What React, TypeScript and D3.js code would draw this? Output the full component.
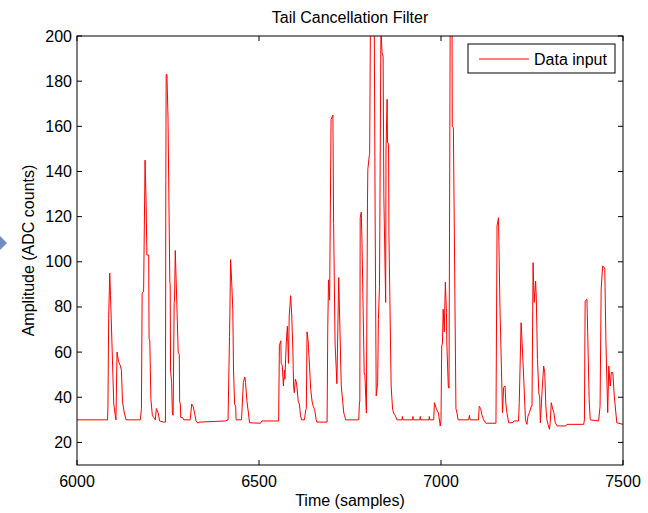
import React from "react";
import * as d3 from "d3";

const sampleTimes: number[] = [
  6000, 6084, 6085, 6087, 6090, 6092, 6094, 6101, 6105, 6107, 6110, 6114, 6119, 6122, 6125, 6130, 6135,
  6174, 6177, 6179, 6183, 6187, 6190, 6192, 6197, 6198, 6200, 6203, 6207, 6211, 6215, 6218, 6223, 6227,
  6238, 6243, 6244, 6245, 6247, 6250, 6255, 6256, 6257, 6260, 6262, 6264, 6267, 6268, 6270, 6272, 6278,
  6281, 6282, 6284, 6285, 6290, 6293, 6311, 6315, 6319, 6323, 6327, 6332, 6335, 6408, 6415, 6419, 6420,
  6422, 6425, 6428, 6430, 6433, 6436, 6437, 6452, 6457, 6461, 6463, 6467, 6471, 6474, 6504, 6508, 6554,
  6556, 6560, 6561, 6564, 6567, 6570, 6571, 6575, 6578, 6581, 6583, 6587, 6590, 6593, 6595, 6597, 6600,
  6603, 6608, 6611, 6614, 6617, 6625, 6628, 6630, 6632, 6635, 6636, 6639, 6642, 6646, 6649, 6653, 6657,
  6659, 6687, 6689, 6691, 6694, 6698, 6703, 6705, 6709, 6714, 6719, 6726, 6730, 6733, 6735, 6738, 6774,
  6776, 6777, 6778, 6781, 6783, 6789, 6791, 6795, 6798, 6799, 6803, 6804, 6807, 6812, 6816, 6819, 6822,
  6826, 6828, 6831, 6835, 6838, 6841, 6843, 6848, 6849, 6852, 6853, 6856, 6857, 6863, 6867, 6870, 6874,
  6879, 6893, 6894, 6895, 6922, 6923, 6924, 6942, 6943, 6944, 6967, 6968, 6969, 6980, 6982, 6987, 6993,
  6998, 7000, 7002, 7004, 7006, 7009, 7012, 7015, 7016, 7020, 7022, 7026, 7030, 7031, 7034, 7041, 7044,
  7047, 7076, 7078, 7080, 7103, 7105, 7109, 7112, 7117, 7123, 7151, 7154, 7158, 7162, 7166, 7169, 7172,
  7176, 7178, 7181, 7186, 7195, 7202, 7213, 7215, 7220, 7222, 7227, 7232, 7236, 7239, 7243, 7248, 7250,
  7253, 7256, 7260, 7262, 7265, 7269, 7271, 7273, 7276, 7278, 7282, 7285, 7288, 7291, 7294, 7298, 7300,
  7303, 7307, 7310, 7314, 7319, 7343, 7346, 7392, 7394, 7396, 7401, 7403, 7407, 7410, 7433, 7437, 7440,
  7444, 7449, 7450, 7453, 7458, 7461, 7465, 7468, 7472, 7476, 7483, 7500,
];

const adcCounts: number[] = [
  30, 30, 36, 75, 95, 85, 75, 37, 32, 30, 60, 56, 54, 52, 38, 33, 30,
  30, 35, 86, 87, 145, 125, 103, 103, 66, 65, 39, 32, 31, 30, 35, 33, 29.5,
  29, 29, 136, 183, 183, 164, 91, 90, 52, 46.5, 33, 32, 82, 83, 105, 94, 60,
  59, 38, 37, 31, 31, 30, 30, 37, 36, 33, 29.5, 28.5, 29, 29.5, 30, 67, 77,
  101, 91, 79, 52, 37, 36, 30, 30, 46.5, 49, 46.5, 38, 33, 28.7, 28.5, 29.5, 29.5,
  63, 65, 55, 54, 45, 52, 48, 64.5, 71.5, 55, 76, 85, 76, 61, 45, 42, 48,
  46.5, 38, 37, 32, 30, 30, 34, 35, 69, 65, 62, 53, 43.5, 38, 36, 34.5, 30,
  29, 29, 71.5, 92, 83, 163, 165, 117, 64, 46, 93, 45, 38, 33, 32, 30, 30,
  38, 38, 119.5, 122, 108.5, 51, 49.5, 33, 126, 141, 147, 148, 230, 245, 230, 122, 40.6,
  46.5, 74.5, 89, 204, 192.6, 191, 129, 82, 150, 172, 153, 152, 112, 45, 34.7, 33, 32,
  30, 30, 31.5, 30, 30, 31.5, 30, 30, 31.5, 30, 30, 31.5, 30, 30, 37.6, 35, 33,
  27.3, 30, 62.7, 64, 79, 69, 91, 77.5, 64, 45, 44, 240, 235, 160, 159.4, 35, 33,
  30, 30, 32, 30, 30, 36, 35, 32.4, 30, 28.5, 28.5, 116, 119.5, 79.7, 52.4, 33.2, 44.3,
  45, 37.6, 33.2, 28.7, 28.7, 29.5, 29.5, 37.6, 73, 67, 49.4, 30, 28, 31.7, 33.2, 36, 36,
  99.6, 82, 91.5, 82.6, 56.8, 41.3, 40.5, 28.7, 37.6, 43.5, 53.8, 51, 36, 30, 28, 25.8, 28.7,
  37.6, 34.7, 33.2, 28.7, 27.3, 27.3, 28, 28, 30, 82.6, 83.4, 68.6, 39, 30, 29.5, 36, 87.8,
  98.1, 97.4, 96.7, 65, 33.2, 53.8, 45, 51, 51, 40.6, 28.7, 28,
];

const xTicks: number[] = [6000, 6500, 7000, 7500];
const yTicks: number[] = [20, 40, 60, 80, 100, 120, 140, 160, 180, 200];

const titleText = "Tail Cancellation Filter";
const xLabel = "Time (samples)";
const yLabel = "Amplitude (ADC counts)";
const seriesName = "Data input";

const W = 648;
const H = 513;
const L = 77, R = 623, T = 36, B = 465;
const FONT = "'Liberation Sans', Arial, Helvetica, sans-serif";

export default function App() {
  const x = d3.scaleLinear().domain([6000, 7500]).range([L, R]);
  const y = d3.scaleLinear().domain([10, 200]).range([B, T]);
  const pts: [number, number][] = sampleTimes.map((t, i) => [t, adcCounts[i]]);
  const line = d3
    .line<[number, number]>()
    .x((d) => x(d[0]))
    .y((d) => y(d[1]));
  const tl = 5;
  return (
    <svg
      width={W}
      height={H}
      style={{ position: "absolute", left: 0, top: 0, background: "#fff" }}
      fontFamily={FONT}
    >
      <rect x={0} y={0} width={W} height={H} fill="#fff" />
      <polygon points="-7,243 0,236 7,243 0,250" fill="#6f8cc4" />
      <defs>
        <clipPath id="plotClip">
          <rect x={L} y={T} width={R - L} height={B - T} />
        </clipPath>
      </defs>
      <path
        d={line(pts) || ""}
        fill="none"
        stroke="#ff0000"
        strokeWidth={1}
        clipPath="url(#plotClip)"
      />
      <rect x={L} y={T} width={R - L} height={B - T} fill="none" stroke="#000" strokeWidth={1} />
      {xTicks.map((t) => (
        <g key={"x" + t}>
          <line x1={x(t)} x2={x(t)} y1={B} y2={B - tl} stroke="#000" />
          <line x1={x(t)} x2={x(t)} y1={T} y2={T + tl} stroke="#000" />
          <text x={x(t)} y={487} fontSize={16} textAnchor="middle" fill="#000">
            {t}
          </text>
        </g>
      ))}
      {yTicks.map((t) => (
        <g key={"y" + t}>
          <line x1={L} x2={L + tl} y1={y(t)} y2={y(t)} stroke="#000" />
          <line x1={R} x2={R - tl} y1={y(t)} y2={y(t)} stroke="#000" />
          <text x={72} y={y(t) + 5.5} fontSize={16} textAnchor="end" fill="#000">
            {t}
          </text>
        </g>
      ))}
      <text x={(L + R) / 2} y={22.5} fontSize={16} textAnchor="middle" fill="#000">
        {titleText}
      </text>
      <text x={(L + R) / 2} y={505.5} fontSize={16} textAnchor="middle" fill="#000">
        {xLabel}
      </text>
      <text
        transform={`translate(34,${(T + B) / 2}) rotate(-90)`}
        fontSize={16}
        textAnchor="middle"
        fill="#000"
      >
        {yLabel}
      </text>
      <g>
        <rect x={468} y={44} width={147} height={29} fill="#fff" stroke="#000" strokeWidth={1} />
        <line x1={479} x2={529} y1={59} y2={59} stroke="#ff0000" strokeWidth={1} />
        <text x={534} y={64.5} fontSize={16} fill="#000">
          {seriesName}
        </text>
      </g>
    </svg>
  );
}
